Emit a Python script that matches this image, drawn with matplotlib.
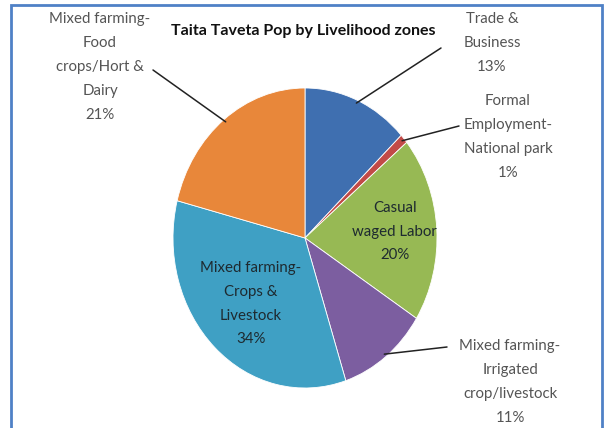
import matplotlib.pyplot as plt
from matplotlib.patches import Rectangle
import numpy as np

# data
zones = ['Trade &\nBusiness', 'Formal\nEmployment-\nNational park', 'Casual\nwaged Labor',
         'Mixed farming-\nIrrigated\ncrop/livestock', 'Mixed farming-\nCrops &\nLivestock',
         'Mixed farming-\nFood\ncrops/Hort &\nDairy']
shares = [13, 1, 20, 11, 34, 21]
colors = ['#3f6fb0', '#c24a47', '#97b954', '#7c5ea0', '#3fa0c4', '#e8873a']

W, H = 604, 428
fig = plt.figure(figsize=(W / 100, H / 100), dpi=100)

# pie is stretched vertically in the original
cx, cy, rx, ry = 305, 238, 132, 150
ax = fig.add_axes([(cx - rx) / W, 1 - (cy + ry) / H, 2 * rx / W, 2 * ry / H])
wedges, _ = ax.pie(shares, colors=colors, startangle=90, counterclock=False,
                   wedgeprops=dict(edgecolor='white', linewidth=0.6))
ax.set_aspect('auto')
ax.set_xlim(-1, 1)
ax.set_ylim(-1, 1)

font = 'Lato'
gray = '#555555'
fs = 10.8
ls = 1.9


def mid_point(i, r):
    ang = np.deg2rad((wedges[i].theta1 + wedges[i].theta2) / 2)
    return r * np.cos(ang), r * np.sin(ang)


def fig_xy(px, py):
    return px / W, 1 - py / H


# outside labels: (index, label position px, leader end px)
outside = [
    (0, (492, 43), (441, 48)),
    (1, (508, 137), (459, 126)),
    (3, (510, 382), (447, 347)),
    (5, (100, 67), (153, 70)),
]
for i, (tx, ty), (ex, ey) in outside:
    fig.text(*fig_xy(tx, ty), f'{zones[i]}\n{shares[i]}%', ha='center', va='center',
             fontsize=fs, color=gray, family=font, linespacing=ls)
    ax.annotate('', xy=mid_point(i, 0.98), xycoords='data',
                xytext=fig_xy(ex, ey), textcoords='figure fraction',
                arrowprops=dict(arrowstyle='-', color='#222222', lw=1.1,
                                shrinkA=0, shrinkB=0))

# inside labels
for i, r in [(2, 0.68), (4, 0.6)]:
    ax.text(*mid_point(i, r), f'{zones[i]}\n{shares[i]}%', ha='center', va='center',
            fontsize=fs, color='#1e2a30', family=font, linespacing=ls)

fig.text(*fig_xy(303, 31), 'Taita Taveta Pop by Livelihood zones', ha='center', va='center',
         fontsize=11.5, fontweight='bold', color='#111111', family=font)

# blue frame
fig.patches.append(Rectangle((11 / W, -0.05), 591 / W, 1 - 5 / H + 0.05, transform=fig.transFigure,
                             fill=False, edgecolor='#4f81c6', linewidth=2))

fig.savefig('out.png', dpi=100)
